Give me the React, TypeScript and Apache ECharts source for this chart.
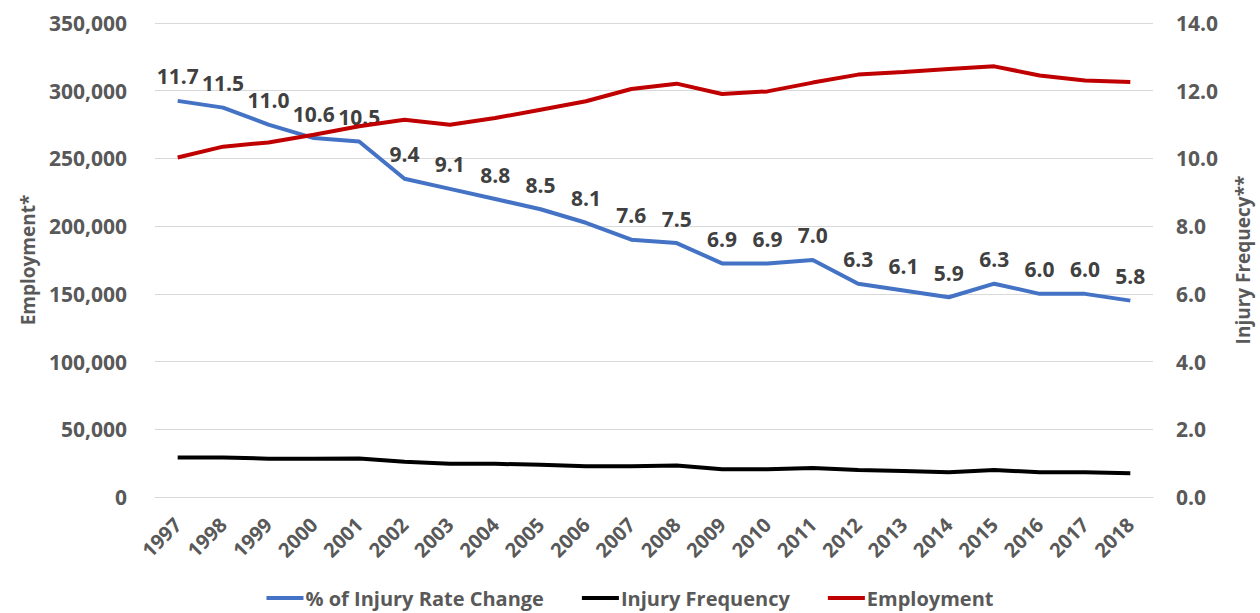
import React, { useEffect, useRef } from "react";
import * as echarts from "echarts";

const years = ["1997","1998","1999","2000","2001","2002","2003","2004","2005","2006","2007","2008","2009","2010","2011","2012","2013","2014","2015","2016","2017","2018"];
const injuryRateChange = [11.7, 11.5, 11.0, 10.6, 10.5, 9.4, 9.1, 8.8, 8.5, 8.1, 7.6, 7.5, 6.9, 6.9, 7.0, 6.3, 6.1, 5.9, 6.3, 6.0, 6.0, 5.8];
const injuryFrequency = [1.17, 1.17, 1.13, 1.13, 1.14, 1.04, 0.98, 0.98, 0.95, 0.91, 0.91, 0.93, 0.82, 0.82, 0.86, 0.80, 0.77, 0.73, 0.80, 0.73, 0.73, 0.70];
const employment = [250700, 258700, 261800, 267500, 273700, 278600, 274900, 279800, 286000, 292200, 301300, 305200, 297600, 299500, 306000, 311900, 313900, 316100, 318000, 311200, 307500, 306500];

const FONT = "'Open Sans', 'Noto Sans', sans-serif";
const GREY = "#595959";

export default function App() {
  const ref = useRef<HTMLDivElement>(null);
  useEffect(() => {
    if (!ref.current) return;
    const chart = echarts.init(ref.current, undefined, { renderer: "svg" });
    chart.setOption({
      animation: false,
      textStyle: { fontFamily: FONT },
      grid: { left: 155, right: 105, top: 23, bottom: 116, containLabel: false },
      legend: {
        bottom: 0,
        left: "center",
        icon: "rect",
        itemWidth: 37,
        itemHeight: 4,
        itemGap: 38,
        textStyle: { fontFamily: FONT, fontSize: 20, fontWeight: "bold", color: GREY, padding: [0, 0, 0, -3] },
        data: ["% of Injury Rate Change", "Injury Frequency", "Employment"],
      },
      xAxis: {
        type: "category",
        data: years,
        boundaryGap: true,
        axisLine: { show: true, lineStyle: { color: "#d9d9d9", width: 1 } },
        axisTick: { show: false },
        axisLabel: {
          rotate: 45,
          margin: 24,
          interval: 0,
          fontFamily: FONT,
          fontSize: 20,
          fontWeight: "bold",
          color: GREY,
        },
      },
      yAxis: [
        {
          type: "value",
          min: 0,
          max: 350000,
          interval: 50000,
          name: "Employment*",
          nameLocation: "middle",
          nameRotate: 90,
          nameGap: 118,
          nameTextStyle: { fontFamily: FONT, fontSize: 19, fontWeight: "bold", color: GREY },
          axisLine: { show: false },
          axisTick: { show: false },
          splitLine: { lineStyle: { color: "#d9d9d9", width: 1 } },
          axisLabel: {
            margin: 28,
            fontFamily: FONT,
            fontSize: 21,
            fontWeight: "bold",
            color: GREY,
            formatter: (v: number) => v.toLocaleString("en-US"),
          },
        },
        {
          type: "value",
          min: 0,
          max: 14,
          interval: 2,
          name: "Injury Frequecy**",
          nameLocation: "middle",
          nameRotate: 90,
          nameGap: 80,
          nameTextStyle: { fontFamily: FONT, fontSize: 19, fontWeight: "bold", color: GREY },
          axisLine: { show: false },
          axisTick: { show: false },
          splitLine: { show: false },
          axisLabel: {
            margin: 23,
            fontFamily: FONT,
            fontSize: 21,
            fontWeight: "bold",
            color: GREY,
            formatter: (v: number) => v.toFixed(1),
          },
        },
      ],
      series: [
        {
          name: "% of Injury Rate Change",
          type: "line",
          yAxisIndex: 1,
          data: injuryRateChange,
          symbol: "circle",
          symbolSize: 0.1,
          showSymbol: true,
          lineStyle: { color: "#4472C4", width: 4 },
          itemStyle: { color: "#4472C4" },
          labelLayout: { hideOverlap: false },
          label: {
            show: true,
            position: "top",
            distance: 14,
            fontFamily: FONT,
            fontSize: 21,
            fontWeight: "bold",
            color: "#404040",
            formatter: (p: any) => Number(p.value).toFixed(1),
          },
          z: 2,
        },
        {
          name: "Injury Frequency",
          type: "line",
          yAxisIndex: 1,
          data: injuryFrequency,
          symbol: "none",
          lineStyle: { color: "#000000", width: 4 },
          itemStyle: { color: "#000000" },
          z: 2,
        },
        {
          name: "Employment",
          type: "line",
          yAxisIndex: 0,
          data: employment,
          symbol: "none",
          lineStyle: { color: "#C00000", width: 4 },
          itemStyle: { color: "#C00000" },
          z: 3,
        },
      ],
    });
    return () => chart.dispose();
  }, []);
  return (
    <div
      ref={ref}
      style={{ position: "fixed", left: 0, top: 0, width: 1260, height: 613, background: "#fff" }}
    />
  );
}
